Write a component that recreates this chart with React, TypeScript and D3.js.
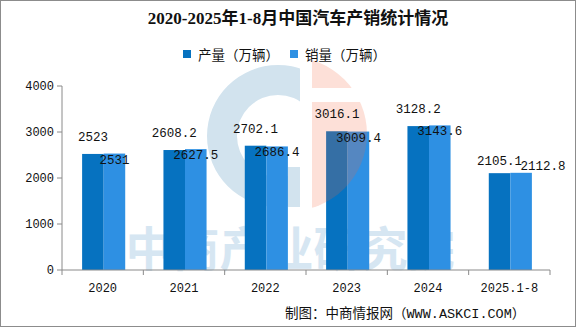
import React from "react";
import * as d3 from "d3";

const categories = ["2020", "2021", "2022", "2023", "2024", "2025.1-8"];
const production = [2523, 2608.2, 2702.1, 3016.1, 3128.2, 2105.1];
const sales = [2531, 2627.5, 2686.4, 3009.4, 3143.6, 2112.8];
const yTicks = [0, 1000, 2000, 3000, 4000];
const seriesNames = ["产量（万辆）", "销量（万辆）"];
const title = "2020-2025年1-8月中国汽车产销统计情况";
const footer = "制图：中商情报网（WWW.ASKCI.COM）";
const watermark = "中商产业研究院";

const W = 576;
const H = 327;
const colors = ["#0672c0", "#2e90e3"];
const axisColor = "#8a8a8a";
const mono = "'Liberation Mono', 'Noto Sans CJK SC', monospace";
const cjk = "'Noto Sans CJK SC', sans-serif";
const wmBlue = "#d2e3ee";

export default function App() {
  const left = 62;
  const right = 550;
  const y = d3.scaleLinear().domain([0, 4000]).range([270, 86]);
  const x = d3.scaleBand<string>().domain(categories).range([left, right]).padding(0);
  const step = x.step();
  const pairW = step * 0.53;
  const inner = d3.scaleBand<number>().domain([0, 1]).range([0, pairW]).padding(0);
  const pairStart = (c: string) => (x(c) as number) + (step - pairW) / 2 + 1;

  const ring = d3
    .arc<any>()
    .innerRadius(41)
    .outerRadius(71)
    .startAngle(0)
    .endAngle(Math.PI * 2);

  return (
    <svg
      width={W}
      height={H}
      style={{ position: "absolute", left: 0, top: 0, background: "#fff" }}
      fontFamily={cjk}
    >
      <defs>
        <clipPath id="ringClip">
          <rect x={190} y={50} width={110} height={170} />
        </clipPath>
        <clipPath id="orangeClip">
          <rect x={312} y={50} width={90} height={38} />
          <rect x={312} y={102} width={90} height={120} />
        </clipPath>
      </defs>
      <rect x={0.5} y={0.5} width={W - 1} height={H - 1} fill="#fff" stroke="#8c8c8c" />

      {/* watermark (under bars) */}
      <g>
        <g clipPath="url(#ringClip)">
          <path d={ring({}) as string} transform="translate(278,136)" fill={wmBlue} />
        </g>
        <rect x={288} y={167} width={12} height={40} fill={wmBlue} />
        <text
          x={290}
          y={266}
          textAnchor="middle"
          fontSize={47}
          fontWeight={700}
          fill="#d6e6f2"
          fontFamily={cjk}
        >
          {watermark}
        </text>
      </g>

      {/* title */}
      <text
        x={298}
        y={24}
        textAnchor="middle"
        fontSize={17}
        fontWeight={700}
        fontFamily="'Liberation Serif', 'Noto Sans CJK SC', serif"
        fill="#111"
      >
        {title}
      </text>

      {/* legend */}
      {seriesNames.map((n, i) => {
        const lx = 183 + i * 107;
        return (
          <g key={n}>
            <rect x={lx} y={50} width={8} height={8} fill={colors[i]} />
            <text x={lx + 15} y={60} fontSize={13.5} fill="#111" fontFamily={cjk}>
              {n}
            </text>
          </g>
        );
      })}

      {/* bars */}
      {categories.map((c, i) => {
        const vals = [production[i], sales[i]];
        return (
          <g key={c}>
            {vals.map((v, j) => (
              <rect
                key={j}
                x={pairStart(c) + (inner(j) as number)}
                y={y(v)}
                width={inner.bandwidth()}
                height={y(0) - y(v)}
                fill={colors[j]}
              />
            ))}
          </g>
        );
      })}

      {/* orange watermark piece (over bars) */}
      <circle cx={290} cy={134} r={77} fill="rgb(245,100,60)" opacity={0.2} clipPath="url(#orangeClip)" />

      {/* y axis */}
      <line x1={left} x2={left} y1={y(4000)} y2={y(0)} stroke={axisColor} />
      {yTicks.map((t) => (
        <g key={t}>
          <line x1={left - 5} x2={left} y1={y(t)} y2={y(t)} stroke={axisColor} />
          <text x={left - 8} y={y(t) + 4} textAnchor="end" fontSize={12} fontFamily={mono} fill="#111">
            {t}
          </text>
        </g>
      ))}

      {/* x axis */}
      <line x1={left} x2={right} y1={y(0)} y2={y(0)} stroke={axisColor} />
      {[...categories.map((c) => x(c) as number), right].map((tx, i) => (
        <line key={i} x1={tx} x2={tx} y1={y(0)} y2={y(0) + 5} stroke={axisColor} />
      ))}
      {categories.map((c) => (
        <text
          key={c}
          x={(x(c) as number) + step / 2}
          y={292}
          textAnchor="middle"
          fontSize={12}
          fontFamily={mono}
          fill="#111"
        >
          {c}
        </text>
      ))}

      {/* value labels */}
      {categories.map((c, i) => {
        const last = i === categories.length - 1;
        const px = pairStart(c) + (inner(0) as number) + inner.bandwidth() / 2;
        const sx = pairStart(c) + (inner(1) as number) + inner.bandwidth() / 2;
        return (
          <g key={c} fontSize={12.5} fontFamily={mono} fill="#111">
            <text x={px} y={y(production[i]) - (last ? 8 : 13)} textAnchor="middle">
              {production[i]}
            </text>
            <text
              x={last ? sx + 22 : sx}
              y={last ? y(sales[i]) - 3 : y(sales[i]) + 10}
              textAnchor="middle"
            >
              {sales[i]}
            </text>
          </g>
        );
      })}

      {/* footer */}
      <text x={285} y={318} fontSize={13.5} fill="#111" fontFamily={mono}>
        {footer}
      </text>
    </svg>
  );
}
